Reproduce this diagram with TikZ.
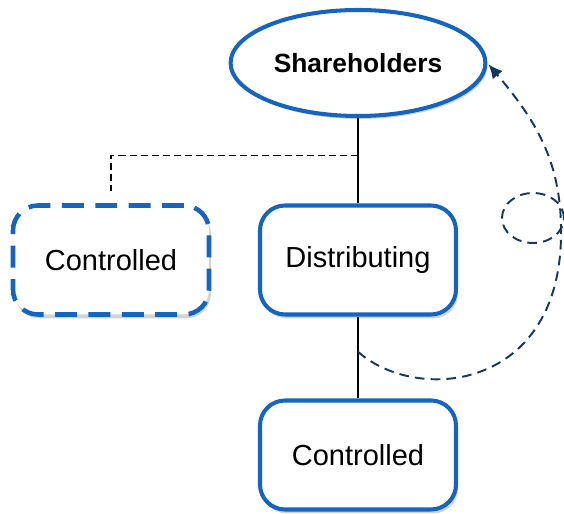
\documentclass[tikz,border=0pt]{standalone}
\usepackage{fontspec}
\setmainfont{Liberation Sans}
\usepackage{tikz}
\usetikzlibrary{shapes, arrows.meta, positioning, shadows, calc}
\definecolor{boxblue}{RGB}{21,101,192}
\definecolor{navy}{RGB}{23,54,93}
\tikzstyle{owner} = [ellipse, minimum width=4.84cm, minimum height=2.12cm, text centered, draw=boxblue, line width=2.3pt, fill=white, drop shadow={opacity=0.35, shadow xshift=0.04cm, shadow yshift=-0.06cm}, font=\fontsize{15}{18}\selectfont\bfseries]
\tikzstyle{company} = [rectangle, rounded corners=0.5cm, minimum width=3.92cm, minimum height=2.18cm, text centered, draw=boxblue, line width=2.3pt, fill=white, drop shadow={opacity=0.35, shadow xshift=0.04cm, shadow yshift=-0.08cm}, font=\fontsize{16.5}{20}\selectfont]
\tikzstyle{linked} = [company, line width=2.6pt, dash pattern=on 12.5pt off 6.5pt]
\tikzstyle{ring} = [ellipse, minimum width=1.24cm, minimum height=1cm, draw=navy, line width=1.1pt, dash pattern=on 5.5pt off 3.5pt]
\tikzstyle{link} = [draw=black, line width=0.7pt]
\tikzstyle{control} = [draw=black, line width=0.85pt, dash pattern=on 4pt off 2.3pt]
\tikzstyle{vote} = [draw=navy, line width=1.1pt, dash pattern=on 5.5pt off 3.5pt, -{Latex[length=2.8mm, width=2.6mm]}]

\begin{document}
\begin{tikzpicture}[node distance=3.9cm]
\useasboundingbox (-7.16,1.26) rectangle (4.12,-9.02);
\node (share) [owner] {Shareholders};
\node (dist) [company, below of=share, xshift=0cm, yshift=-0.04cm] {Distributing};
\node (ctrl1) [linked, left of=dist, xshift=-1.04cm, yshift=0cm] {Controlled};
\node (ctrl2) [company, below of=dist, xshift=0cm, yshift=0cm] {Controlled};
\node (loopmark) [ring, right of=dist, xshift=-0.4cm, yshift=0.84cm] {};
\coordinate (j1) at ($(share.south)!0.44!(dist.north)$);
\coordinate (j2) at ($(dist.south)!0.43!(ctrl2.north)$);
\coordinate (bend) at ([xshift=4.06cm, yshift=0.6cm]dist.center);
\draw[link] (share) -- (dist);
\draw[link] (dist) -- (ctrl2);
\draw[control, shorten >=0.25cm] (j1) -| (ctrl1.north);
\draw[vote, shorten >=1pt] (j2) .. controls +(1.2cm,-1.06cm) and +(0.04cm,-3.2cm) .. (bend) to[out=90, in=-50] (share.east);
\end{tikzpicture}
\end{document}
